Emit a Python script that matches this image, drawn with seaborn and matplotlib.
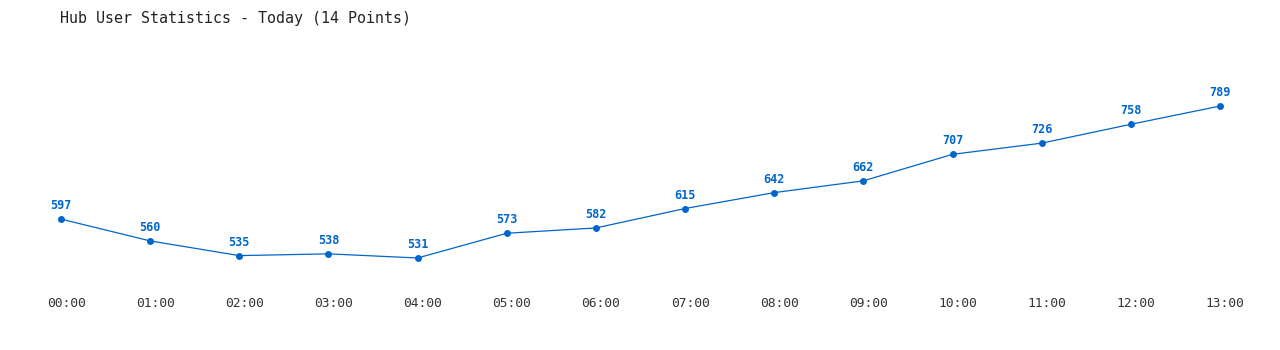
import matplotlib
matplotlib.use("Agg")
import matplotlib.pyplot as plt
import matplotlib.transforms as mtransforms
import seaborn as sns
import pandas as pd

times = ["00:00", "01:00", "02:00", "03:00", "04:00", "05:00", "06:00",
         "07:00", "08:00", "09:00", "10:00", "11:00", "12:00", "13:00"]
users = [597, 560, 535, 538, 531, 573, 582, 615, 642, 662, 707, 726, 758, 789]
title = "Hub User Statistics - Today (14 Points)"

sns.set_theme(style="white")
plt.rcParams['font.family'] = ['DejaVu Sans Mono', 'DejaVu Sans']

color = "#0066cc"
df = pd.DataFrame({"idx": range(len(times)), "users": users})

fig = plt.figure(figsize=(12.8, 3.5), dpi=100)
ax = fig.add_axes([61/1280, 0.2, (1220-61)/1280, 0.6286])
sns.lineplot(data=df, x="idx", y="users", ax=ax, color=color, linewidth=0.9,
             marker="o", markersize=5, markeredgewidth=0, clip_on=False)
ax.set_xlim(0, 13)
ax.set_ylim(493.6, 867.2)
for i, v in enumerate(users):
    ax.annotate(str(v), (i, v), xytext=(0, 5), textcoords="offset points",
                ha="center", va="bottom", color=color, fontsize=8.5,
                fontweight="bold")
ax.set_xticks(range(len(times)))
ax.set_xticklabels(times, fontsize=9.3, color="#333333")
ax.tick_params(axis="x", length=0, pad=12)
shift = mtransforms.ScaledTranslation(5/100, 0, fig.dpi_scale_trans)
for lbl in ax.get_xticklabels():
    lbl.set_transform(lbl.get_transform() + shift)
ax.set_yticks([])
ax.set_xlabel("")
ax.set_ylabel("")
for s in ax.spines.values():
    s.set_visible(False)
fig.text(60/1280, 1 - 18/350, title, ha="left", va="center", fontsize=10.8,
         color="#222222")
fig.savefig("out.png", dpi=100, facecolor="white")
